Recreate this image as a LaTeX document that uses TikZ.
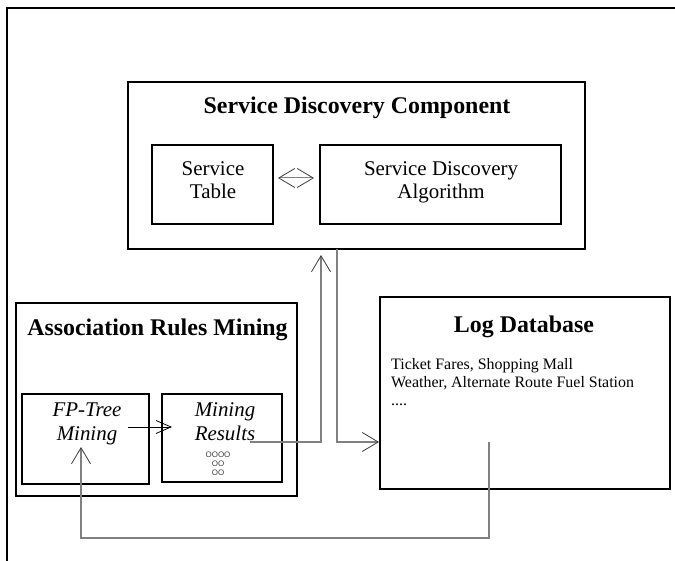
\documentclass[tikz,border=0pt]{standalone}
\usepackage{fontspec}
\setmainfont{Liberation Serif}
\newfontfamily\circfont{Liberation Sans}
\usetikzlibrary{arrows.meta}
\definecolor{conncol}{RGB}{128,128,128}
\definecolor{tipcol}{RGB}{60,60,60}
\begin{document}
\begin{tikzpicture}[x=1bp,y=-1bp,
  box/.style={draw=black,line width=2bp,inner sep=0pt},
  titletext/.style={font=\fontsize{24}{28}\selectfont\bfseries,inner sep=0pt},
  lbl/.style={font=\fontsize{21}{24}\selectfont,align=center,inner sep=0pt},
  ilbl/.style={font=\fontsize{21}{24}\selectfont\itshape,inner sep=0pt},
  conn/.style={draw=conncol,line width=1.4bp},
  tipv/.style={-{Straight Barb[length=16bp,width=19bp,line width=0.8bp,color=tipcol]}},
  dtip/.style={{Straight Barb[length=16bp,width=19bp,line width=0.8bp,color=tipcol]}-{Straight Barb[length=16bp,width=19bp,line width=0.8bp,color=tipcol]}},
  thinarrow/.style={draw=black,line width=0.8bp,-{Straight Barb[length=15bp,width=13bp,line width=0.8bp]}}
]
\useasboundingbox (0,0) rectangle (675,561);
% outer frame
\draw[line width=2bp] (7,561) -- (7,8) -- (675,8);

% Service Discovery Component
\node[box,minimum width=457bp,minimum height=167bp] (sdc) at (356.5,165.5) {};
\node[titletext,anchor=base] (sdct) at (357,114) {Service Discovery Component};
\node[box,minimum width=121bp,minimum height=79bp] (st) at (212.5,184.5) {};
\node[lbl,anchor=base] (stt) at (213,199) {Service\\Table};
\node[box,minimum width=241bp,minimum height=79bp] (sda) at (440.5,184.5) {};
\node[lbl,anchor=base] (sdat) at (441,199) {Service Discovery\\Algorithm};
\draw[conn,line width=1bp,dtip] ([xshift=4bp,yshift=6.5bp]st.east) -- ([xshift=-5bp,yshift=6.5bp]sda.west);

% Association Rules Mining
\node[box,minimum width=281bp,minimum height=193bp] (arm) at (156.5,399.5) {};
\node[titletext,anchor=base] (armt) at (157.5,335) {Association Rules Mining};
\node[box,minimum width=127bp,minimum height=90bp] (fp) at (85.5,439) {};
\node[ilbl,align=center,anchor=base] (fpt) at (87,440) {FP-Tree\\Mining};
\node[box,minimum width=120bp,minimum height=88bp] (mr) at (222,438) {};
\node[ilbl,align=center,anchor=base] (mrt) at (225,440) {Mining\\Results};
\node[font=\circfont\fontsize{8}{9}\selectfont,text=black!75,align=center,inner sep=0pt,anchor=base] (circ) at (218,475) {OOOO\\OO\\OO};

% Log Database
\node[box,minimum width=290bp,minimum height=192bp] (lg) at (525,393) {};
\node[titletext,anchor=base] (lgt) at (524,332) {Log Database};
\node[font=\fontsize{16}{18}\selectfont,align=left,inner sep=0pt,anchor=base west] (lgtx) at (391,405) {Ticket Fares, Shopping Mall\\Weather, Alternate Route Fuel Station\\....};

% connectors
\coordinate (mrout) at (250,442);
\coordinate (sdcin) at (321,255);
\draw[conn,tipv] (mrout) -| (sdcin);

\coordinate (sdcout) at (337,249);
\coordinate (lgin) at (379,442);
\draw[conn,tipv] (sdcout) |- (lgin);

\coordinate (lgout) at (489,442);
\coordinate (bend) at (489,538);
\coordinate (fpin) at (81,447);
\draw[conn,tipv] (lgout) -- (bend) -| (fpin);

\coordinate (fpout) at (128,427);
\coordinate (mrin) at (172,427);
\draw[thinarrow] (fpout) -- (mrin);
\end{tikzpicture}
\end{document}
